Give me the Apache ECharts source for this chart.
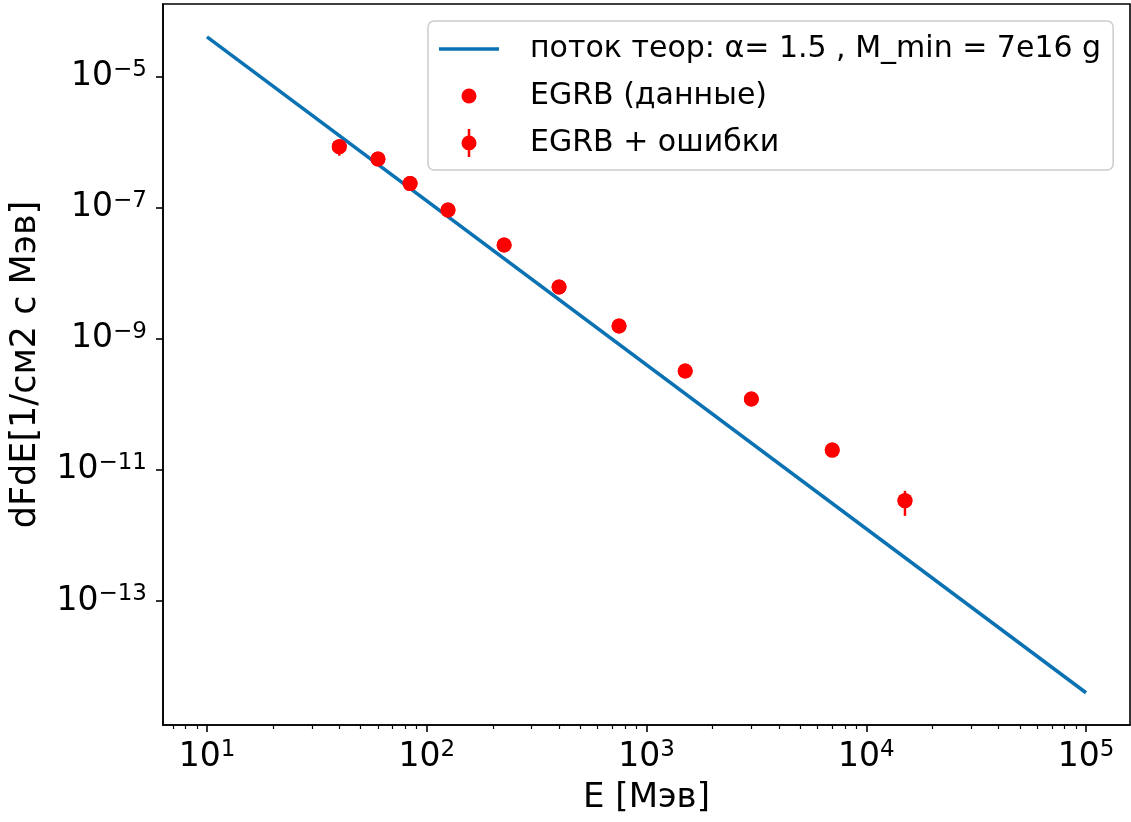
<!DOCTYPE html>
<html>
<head>
<meta charset="utf-8">
<script src="https://cdn.jsdelivr.net/npm/echarts@6/dist/echarts.min.js"></script>
<style>
  html, body { margin: 0; padding: 0; background: #ffffff; }
  #main { width: 1131px; height: 822px; }
</style>
</head>
<body>
<div id="main"></div>
<script>
// данные EGRB
const energy = [40, 60, 84, 125, 225, 400, 750, 1500, 3000, 7000, 15000]
const flux = [8.45e-7, 5.48e-7, 2.31e-7, 9.15e-8, 2.68e-8, 6.13e-9, 1.56e-9, 3.21e-10, 1.20e-10, 2.0e-11, 3.39e-12]
const fluxErr = [2.3e-7, 0.6e-7, 0.25e-7, 0.9e-8, 0.3e-8, 0.7e-9, 0.2e-9, 0.45e-10, 0.2e-10, 0.4e-11, 1.4e-12]

// теоретический поток (концы прямой в log-log)
const theoryE = [10, 1e5]
const theoryF = [4.0e-5, 4.0e-15]

// степени для подписей осей
const xTickPowers = [1, 2, 3, 4, 5]
const yTickPowers = [-13, -11, -9, -7, -5]
const xMinorMult = [2, 3, 4, 5, 6, 7, 8, 9]

const xRange = [0.8, 5.2]
const yRange = [-14.89, -3.898]

const FONT = 'DejaVu Sans'
const lg = Math.log10

const xMinor = []
for (let n = 0; n <= 5; n++) {
  xMinorMult.forEach(k => {
    const v = lg(k * Math.pow(10, n))
    if (v > xRange[0] && v < xRange[1]) xMinor.push(v)
  })
}

const powLabel = v => {
  const n = Math.round(v)
  return '{b|10}{s|' + (n < 0 ? '\u2212' + (-n) : n) + '}'
}
const richPow = {
  b: { fontSize: 33, fontFamily: FONT, color: '#000', lineHeight: 36 },
  s: { fontSize: 23, fontFamily: FONT, color: '#000', lineHeight: 22, verticalAlign: 'top' }
}

const lineName = 'поток теор: \u03b1= 1.5 , M_min = 7e16 g'
const dataName = 'EGRB (данные)'
const errName = 'EGRB + ошибки'

// значки легенды: рамка 86x28, рисунок в пределах 0..60
const iconLine = 'path://M0,0L0,0M0,12.3L60,12.3L60,15.7L0,15.7ZM86,28L86,28'
const iconDot = 'path://M0,0L0,0M22.5,14A7.5,7.5 0 1,1 37.5,14A7.5,7.5 0 1,1 22.5,14ZM86,28L86,28'
const iconErr = 'path://M0,0L0,0M28.75,0L31.25,0L31.25,7L28.75,7ZM28.75,21L31.25,21L31.25,28L28.75,28Z' +
  'M22.5,14A7.5,7.5 0 1,1 37.5,14A7.5,7.5 0 1,1 22.5,14ZM86,28L86,28'

const theoryData = theoryE.map((e, i) => [lg(e), lg(theoryF[i])])
const pointData = energy.map((e, i) => [lg(e), lg(flux[i])])
const errData = energy.map((e, i) => [lg(e), lg(flux[i]), lg(flux[i] - fluxErr[i]), lg(flux[i] + fluxErr[i])])

const chart = echarts.init(document.getElementById('main'))
chart.setOption({
  animation: false,
  backgroundColor: '#ffffff',
  grid: {
    left: 163,
    top: 4,
    right: 1,
    bottom: 97,
    show: true,
    borderColor: '#000',
    borderWidth: 1.6,
    backgroundColor: 'transparent'
  },
  legend: {
    left: 428,
    top: 21,
    orient: 'vertical',
    selectedMode: false,
    itemWidth: 86,
    itemHeight: 28,
    itemGap: 17,
    padding: [13, 12, 12, 11],
    backgroundColor: 'rgba(255,255,255,0.8)',
    borderColor: '#cccccc',
    borderWidth: 1.5,
    borderRadius: 6,
    itemStyle: { borderWidth: 0, opacity: 1 },
    textStyle: { fontSize: 30, fontFamily: FONT, color: '#000', lineHeight: 28 },
    data: [
      { name: lineName, icon: iconLine },
      { name: dataName, icon: iconDot },
      { name: errName, icon: iconErr }
    ]
  },
  xAxis: [
    {
      type: 'value',
      min: xRange[0],
      max: xRange[1],
      name: 'E [Мэв]',
      nameLocation: 'middle',
      nameGap: 56,
      nameTextStyle: { fontSize: 34, fontFamily: FONT, color: '#000' },
      axisLine: { lineStyle: { color: '#000', width: 1.6 } },
      axisTick: { length: 7, lineStyle: { color: '#000', width: 1.6 }, customValues: xTickPowers },
      axisLabel: { margin: 14, formatter: powLabel, rich: richPow, customValues: xTickPowers },
      splitLine: { show: false }
    },
    {
      type: 'value',
      gridIndex: 0,
      position: 'bottom',
      min: xRange[0],
      max: xRange[1],
      axisLine: { show: false },
      axisTick: { length: 4, lineStyle: { color: '#000', width: 1.2 }, customValues: xMinor },
      axisLabel: { show: false },
      splitLine: { show: false }
    }
  ],
  yAxis: {
    type: 'value',
    min: yRange[0],
    max: yRange[1],
    name: 'dFdE[1/см2 с Мэв]',
    nameLocation: 'middle',
    nameGap: 120,
    nameTextStyle: { fontSize: 35, fontFamily: FONT, color: '#000' },
    axisLine: { show: true, lineStyle: { color: '#000', width: 1.6 } },
    axisTick: { show: true, length: 7, lineStyle: { color: '#000', width: 1.6 }, customValues: yTickPowers },
    axisLabel: { margin: 16, formatter: powLabel, rich: richPow, customValues: yTickPowers },
    splitLine: { show: false }
  },
  series: [
    {
      name: lineName,
      type: 'line',
      data: theoryData,
      symbol: 'none',
      color: '#0a72b2',
      lineStyle: { color: '#0a72b2', width: 3.5 },
      z: 2
    },
    {
      name: dataName,
      type: 'scatter',
      data: pointData,
      symbol: 'circle',
      symbolSize: 15,
      color: '#ff0000',
      itemStyle: { color: '#ff0000', opacity: 1 },
      z: 3
    },
    {
      name: errName,
      type: 'custom',
      data: errData,
      color: '#ff0000',
      encode: { x: 0, y: 1 },
      z: 4,
      renderItem: function (params, api) {
        const x = api.value(0)
        const c = api.coord([x, api.value(1)])
        const lo = api.coord([x, api.value(2)])
        const hi = api.coord([x, api.value(3)])
        return {
          type: 'group',
          children: [
            {
              type: 'line',
              shape: { x1: lo[0], y1: lo[1], x2: hi[0], y2: hi[1] },
              style: { stroke: '#ff0000', lineWidth: 2.5 }
            },
            {
              type: 'circle',
              shape: { cx: c[0], cy: c[1], r: 7.5 },
              style: { fill: '#ff0000' }
            }
          ]
        }
      }
    }
  ]
})
</script>
</body>
</html>
